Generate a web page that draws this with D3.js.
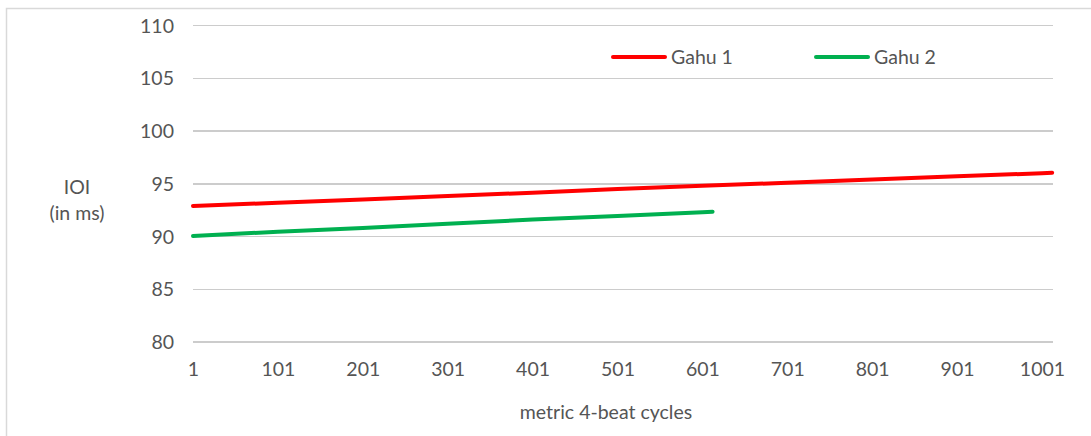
<!DOCTYPE html>
<html lang="en">
<head>
<meta charset="UTF-8">
<script src="https://d3js.org/d3.v7.min.js"></script>
<style>
  body { margin: 0; background: #fff; }
  svg text { font-family: Lato, "Liberation Sans", sans-serif; fill: #555; }
  .grid line { stroke: #cccccc; stroke-width: 1.5px; shape-rendering: crispEdges; }
  .series { fill: none; stroke-width: 4px; stroke-linecap: round; }
</style>
</head>
<body>
<script>
// data (cycle number -> IOI in ms)
var seriesNames = ["Gahu 1", "Gahu 2"];
var seriesColors = ["#ff0000", "#00b050"];
var gahu1Cycles = [1, 101, 201, 301, 401, 501, 601, 701, 801, 901, 1001, 1013];
var gahu1Values = [92.9, 93.2, 93.5, 93.85, 94.15, 94.5, 94.8, 95.1, 95.4, 95.7, 96.0, 96.05];
var gahu2Cycles = [1, 101, 201, 301, 401, 501, 601, 613];
var gahu2Values = [90.05, 90.45, 90.8, 91.2, 91.6, 91.95, 92.3, 92.35];
var xTicks = [1, 101, 201, 301, 401, 501, 601, 701, 801, 901, 1001];
var yTicks = [80, 85, 90, 95, 100, 105, 110];
var cycleCount = 1014;

var W = 1091, H = 436;
var plot = {left: 193, right: 1053, top: 25.5, bottom: 342};
var fontSize = 19.5;

var svg = d3.select("body").append("svg")
  .attr("width", W)
  .attr("height", H);

// chart frame
svg.append("rect")
  .attr("x", 6.5).attr("y", 8.5)
  .attr("width", W + 20).attr("height", H + 20)
  .attr("fill", "#fff")
  .attr("stroke", "#d9d9d9")
  .attr("stroke-width", 1.5);

var x = d3.scaleLinear().domain([1, cycleCount]).range([plot.left, plot.right]);
var y = d3.scaleLinear().domain([80, 110]).range([plot.bottom, plot.top]);

// horizontal gridlines
svg.append("g")
  .attr("class", "grid")
  .selectAll("line")
  .data(yTicks)
  .join("line")
  .attr("x1", plot.left).attr("x2", plot.right)
  .attr("y1", d => y(d)).attr("y2", d => y(d));

// y tick labels
svg.append("g")
  .attr("transform", "translate(" + (plot.left - 19) + ",0)")
  .call(d3.axisLeft(y).tickValues(yTicks).tickSize(0).tickPadding(0))
  .call(g => g.select(".domain").remove())
  .selectAll("text")
  .attr("font-size", fontSize)
  .attr("dy", "0.34em");

// x tick labels
svg.append("g")
  .attr("transform", "translate(0," + (plot.bottom + 20) + ")")
  .call(d3.axisBottom(x).tickValues(xTicks).tickFormat(d3.format("d")).tickSize(0).tickPadding(0))
  .call(g => g.select(".domain").remove())
  .selectAll("text")
  .attr("font-size", fontSize)
  .attr("dy", "0.71em");

// axis titles
svg.append("text")
  .attr("x", 77).attr("y", 194)
  .attr("text-anchor", "middle")
  .attr("font-size", fontSize)
  .text("IOI");
svg.append("text")
  .attr("x", 77).attr("y", 220)
  .attr("text-anchor", "middle")
  .attr("font-size", fontSize)
  .text("(in ms)");
svg.append("text")
  .attr("x", 606).attr("y", 419)
  .attr("text-anchor", "middle")
  .attr("font-size", fontSize)
  .text("metric 4-beat cycles");

// series lines
var line = d3.line()
  .x(d => x(d[0]))
  .y(d => y(d[1]));

var seriesData = [
  d3.zip(gahu1Cycles, gahu1Values),
  d3.zip(gahu2Cycles, gahu2Values)
];

svg.selectAll("path.series")
  .data(seriesData)
  .join("path")
  .attr("class", "series")
  .attr("stroke", (d, i) => seriesColors[i])
  .attr("d", line);

// legend
var legendX = [613, 816];
var legend = svg.selectAll("g.legend")
  .data(seriesNames)
  .join("g")
  .attr("class", "legend")
  .attr("transform", (d, i) => "translate(" + legendX[i] + ",57)");
legend.append("line")
  .attr("x1", 0).attr("x2", 52)
  .attr("stroke", (d, i) => seriesColors[i])
  .attr("stroke-width", 4)
  .attr("stroke-linecap", "round");
legend.append("text")
  .attr("x", 58)
  .attr("dy", "0.34em")
  .attr("font-size", fontSize)
  .text(d => d);
</script>
</body>
</html>
